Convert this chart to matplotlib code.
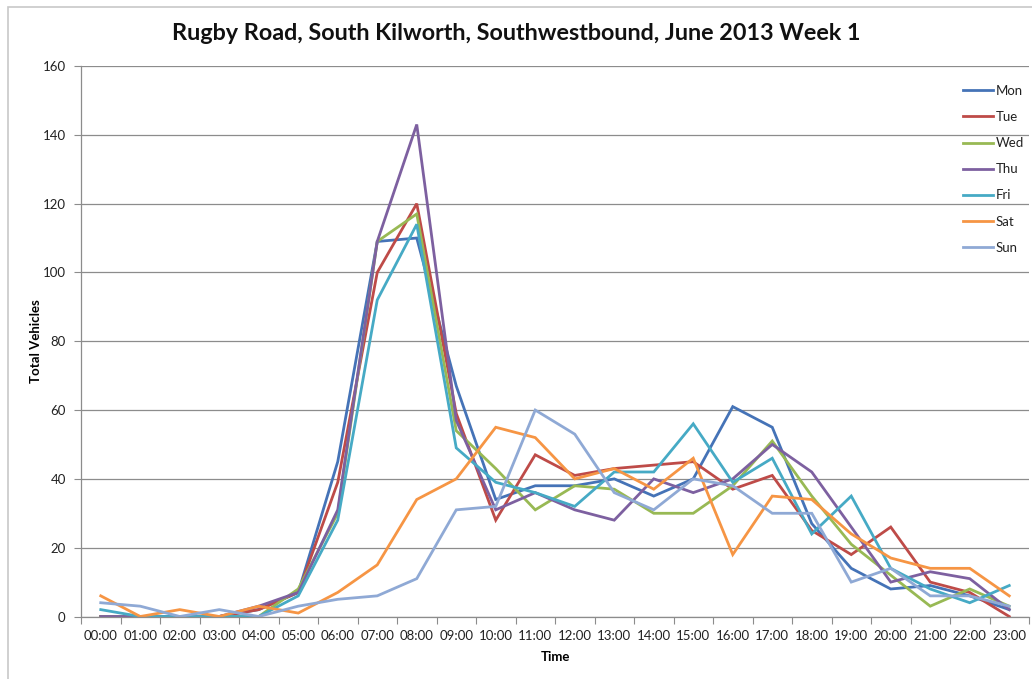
import matplotlib
matplotlib.use("Agg")
import matplotlib.pyplot as plt
from matplotlib.patches import Rectangle

# Hourly vehicle counts, Rugby Road southwestbound
hours = [f"{h:02d}:00" for h in range(24)]
mon = [0, 0, 0, 0, 2, 7, 45, 109, 110, 67, 34, 38, 38, 40, 35, 40, 61, 55, 27, 14, 8, 9, 6, 2]
tue = [0, 0, 0, 0, 2, 7, 39, 100, 120, 59, 28, 47, 41, 43, 44, 45, 37, 41, 25, 18, 26, 10, 7, 0]
wed = [0, 0, 0, 0, 0, 8, 30, 109, 117, 54, 43, 31, 38, 37, 30, 30, 38, 51, 35, 21, 12, 3, 8, 3]
thu = [0, 0, 0, 0, 3, 7, 31, 109, 143, 57, 31, 36, 31, 28, 40, 36, 40, 50, 42, 26, 10, 13, 11, 2]
fri = [2, 0, 0, 0, 0, 6, 28, 92, 114, 49, 39, 36, 32, 42, 42, 56, 39, 46, 24, 35, 14, 8, 4, 9]
sat = [6, 0, 2, 0, 3, 1, 7, 15, 34, 40, 55, 52, 40, 43, 37, 46, 18, 35, 34, 24, 17, 14, 14, 6]
sun = [4, 3, 0, 2, 0, 3, 5, 6, 11, 31, 32, 60, 53, 36, 31, 40, 38, 30, 30, 10, 14, 6, 6, 3]

day_names = ["Mon", "Tue", "Wed", "Thu", "Fri", "Sat", "Sun"]
day_series = [mon, tue, wed, thu, fri, sat, sun]
day_colors = ["#4573B7", "#BE4B48", "#98B954", "#7D60A0", "#46AAC5", "#F69544", "#8FA9D5"]

W, H = 1032, 679
fig = plt.figure(figsize=(W / 100, H / 100), dpi=100)
fig.patch.set_facecolor("white")

# chart outline
fig.patches.append(Rectangle((8 / W, -0.1), 1.2, (H - 7) / H + 0.1,
                             transform=fig.transFigure, fill=False,
                             edgecolor="#C8C8C8", lw=1.2))

left, right, top, bottom = 81, 1029, 66, 616.5
ax = fig.add_axes([left / W, (H - bottom) / H, (right - left) / W, (bottom - top) / H])

x = list(range(len(hours)))
for name, vals, col in zip(day_names, day_series, day_colors):
    ax.plot(x, vals, color=col, lw=2.0, label=name, solid_joinstyle="miter")

font = "Lato"
grid_col = "#8C8C8C"

ax.set_xlim(-0.5, len(hours) - 0.5)
ax.set_ylim(0, 160)
ax.set_yticks(range(0, 161, 20))
ax.yaxis.grid(True, color=grid_col, lw=0.9)
ax.set_axisbelow(True)

# boundary ticks between categories, labels at category centres
ax.set_xticks([i - 0.5 for i in range(len(hours) + 1)])
ax.set_xticklabels([])
ax.set_xticks(x, minor=True)
ax.set_xticklabels(hours, minor=True, fontfamily=font, fontsize=9.5, color="#222222")
ax.tick_params(axis="x", which="major", length=5, color=grid_col, direction="out")
ax.tick_params(axis="x", which="minor", length=0, pad=10)
ax.tick_params(axis="y", length=5, color=grid_col, pad=6, labelsize=9.5, labelcolor="#222222")
for lab in ax.get_yticklabels():
    lab.set_fontfamily(font)

for s in ["top", "right"]:
    ax.spines[s].set_visible(False)
for s in ["left", "bottom"]:
    ax.spines[s].set_color(grid_col)
    ax.spines[s].set_linewidth(0.9)

ax.set_xlabel("Time", fontfamily=font, fontweight="bold", fontsize=9.5, labelpad=6)
ax.set_ylabel("Total Vehicles", fontfamily=font, fontweight="bold", fontsize=9.5)
ax.yaxis.set_label_coords((42 - left) / (right - left), 0.5)

fig.text(0.5, (H - 33) / H, "Rugby Road, South Kilworth, Southwestbound, June 2013 Week 1",
         ha="center", va="center", fontfamily=font, fontweight="bold", fontsize=16.8, color="#111111")

leg = ax.legend(loc="upper left", bbox_to_anchor=(963 / W, (H - 85) / H),
                bbox_transform=fig.transFigure, frameon=False, borderpad=0,
                borderaxespad=0, handlelength=2.3, handletextpad=0.2,
                labelspacing=1.07, prop={"family": font, "size": 9.5})
for t in leg.get_texts():
    t.set_color("#222222")

fig.savefig("out.png", dpi=100)
